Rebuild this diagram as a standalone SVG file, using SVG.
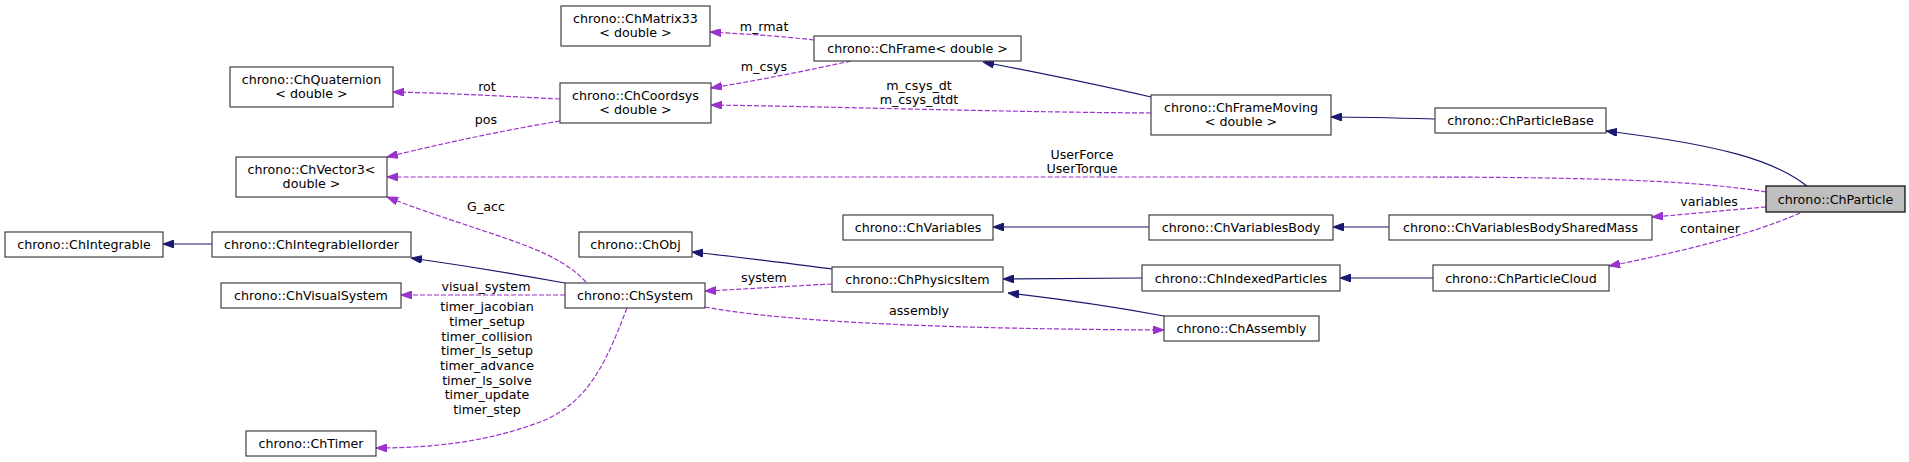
<svg xmlns="http://www.w3.org/2000/svg" width="1909" height="462" viewBox="0 0 1909 462">
<style>
text{font-family:"DejaVu Sans","Liberation Sans",sans-serif;font-size:12.67px;fill:#000;text-anchor:middle}
.n rect{fill:#fff;stroke:#404040;stroke-width:1.2}
.n.cur rect{fill:#bfbfbf;stroke:#000}
.inh{fill:none;stroke:#191970;stroke-width:1.2}
.use{fill:none;stroke:#9a32cd;stroke-width:1.2;stroke-dasharray:5,2}
</style>
<defs>
<marker id="ai" markerUnits="userSpaceOnUse" viewBox="0 0 11 8" refX="11" refY="4" markerWidth="11" markerHeight="8" orient="auto"><path d="M0,0 L11,4 L0,8 z" fill="#191970" stroke="#191970"/></marker>
<marker id="au" markerUnits="userSpaceOnUse" viewBox="0 0 11 8" refX="11" refY="4" markerWidth="11" markerHeight="8" orient="auto"><path d="M0,0 L11,4 L0,8 z" fill="#9a32cd" stroke="#9a32cd"/></marker>
</defs>
<g id="edges">
<path class="use" marker-end="url(#au)" d="M814,40 C780,36 745,34 710,32"/>
<path class="use" marker-end="url(#au)" d="M851,61 C805,71 760,80 711,88"/>
<path class="use" marker-end="url(#au)" d="M1151,113 C1000,112 850,107 711,105"/>
<path class="use" marker-end="url(#au)" d="M560,99 C500,96 445,93 393,92"/>
<path class="use" marker-end="url(#au)" d="M560,121 C500,131 440,144 387,157"/>
<path class="inh" marker-end="url(#ai)" d="M1151,97 C1090,83 1035,72 983,62"/>
<path class="inh" marker-end="url(#ai)" d="M1435,119 C1400,118 1365,117 1331,117"/>
<path class="inh" marker-end="url(#ai)" d="M1808,187 C1775,160 1720,145 1606,131"/>
<path class="use" marker-end="url(#au)" d="M1766,192 C1700,181 1600,177 1400,177 L387,177"/>
<path class="use" marker-end="url(#au)" d="M1766,207 C1728,210 1690,214 1652,217"/>
<path class="use" marker-end="url(#au)" d="M1800,213 C1750,235 1680,252 1609,266"/>
<path class="inh" marker-end="url(#ai)" d="M1389,227 L1333,227"/>
<path class="inh" marker-end="url(#ai)" d="M1149,227 L993,227"/>
<path class="inh" marker-end="url(#ai)" d="M1433,278 L1340,278"/>
<path class="inh" marker-end="url(#ai)" d="M1142,278 L1003,279"/>
<path class="inh" marker-end="url(#ai)" d="M1164,316 C1110,306 1060,299 1008,293"/>
<path class="inh" marker-end="url(#ai)" d="M832,269 C785,263 740,257 692,252"/>
<path class="use" marker-end="url(#au)" d="M832,284 C790,286 748,289 705,291"/>
<path class="use" marker-end="url(#au)" d="M705,307 C790,323 960,329 1164,330"/>
<path class="inh" marker-end="url(#ai)" d="M565,283 C510,273 460,265 411,258"/>
<path class="inh" marker-end="url(#ai)" d="M212,244 L163,244"/>
<path class="use" marker-end="url(#au)" d="M565,295 L401,295"/>
<path class="use" marker-end="url(#au)" d="M586,282 C568,263 545,252 505,238 C470,226 425,212 387,197"/>
<path class="use" marker-end="url(#au)" d="M627,308 C607,360 590,400 545,420 C495,440 440,448 376,448"/>
<text x="764" y="30.5">m_rmat</text>
<text x="764" y="71">m_csys</text>
<text x="919" y="89.5">m_csys_dt</text>
<text x="919" y="103.5">m_csys_dtdt</text>
<text x="487" y="90.5">rot</text>
<text x="486" y="123.5">pos</text>
<text x="1082" y="158.5">UserForce</text>
<text x="1082" y="172.5">UserTorque</text>
<text x="486" y="211">G_acc</text>
<text x="486" y="291">visual_system</text>
<text x="487" y="311">timer_jacobian</text>
<text x="487" y="326">timer_setup</text>
<text x="487" y="341">timer_collision</text>
<text x="487" y="355">timer_ls_setup</text>
<text x="487" y="370">timer_advance</text>
<text x="487" y="385">timer_ls_solve</text>
<text x="487" y="399">timer_update</text>
<text x="487" y="414">timer_step</text>
<text x="764" y="282">system</text>
<text x="919" y="315">assembly</text>
<text x="1709" y="206">variables</text>
<text x="1710" y="233">container</text>
</g>
<g id="ChMatrix33" class="n"><rect x="561" y="6" width="149" height="40"/><text x="635.5" y="22.5">chrono::ChMatrix33</text><text x="635.5" y="36.5">&lt; double &gt;</text></g>
<g id="ChFrame" class="n"><rect x="814" y="36" width="207" height="25"/><text x="917.5" y="53">chrono::ChFrame&lt; double &gt;</text></g>
<g id="ChQuaternion" class="n"><rect x="230" y="67" width="163" height="40"/><text x="311.5" y="83.5">chrono::ChQuaternion</text><text x="311.5" y="97.5">&lt; double &gt;</text></g>
<g id="ChCoordsys" class="n"><rect x="560" y="83" width="151" height="40"/><text x="635.5" y="99.5">chrono::ChCoordsys</text><text x="635.5" y="113.5">&lt; double &gt;</text></g>
<g id="ChFrameMoving" class="n"><rect x="1151" y="95" width="180" height="40"/><text x="1241" y="111.5">chrono::ChFrameMoving</text><text x="1241" y="125.5">&lt; double &gt;</text></g>
<g id="ChParticleBase" class="n"><rect x="1435" y="108" width="171" height="25"/><text x="1520.5" y="125">chrono::ChParticleBase</text></g>
<g id="ChVector3" class="n"><rect x="236" y="157" width="151" height="40"/><text x="311.5" y="173.5">chrono::ChVector3&lt;</text><text x="311.5" y="187.5">double &gt;</text></g>
<g id="ChParticle" class="n cur"><rect x="1766" y="186" width="139" height="26"/><text x="1835.5" y="203.5">chrono::ChParticle</text></g>
<g id="ChVariables" class="n"><rect x="843" y="215" width="150" height="25"/><text x="918" y="232">chrono::ChVariables</text></g>
<g id="ChVariablesBody" class="n"><rect x="1149" y="215" width="184" height="25"/><text x="1241" y="232">chrono::ChVariablesBody</text></g>
<g id="ChVariablesBodySharedMass" class="n"><rect x="1389" y="215" width="263" height="25"/><text x="1520.5" y="232">chrono::ChVariablesBodySharedMass</text></g>
<g id="ChIntegrable" class="n"><rect x="5" y="232" width="158" height="25"/><text x="84" y="249">chrono::ChIntegrable</text></g>
<g id="ChIntegrableIIorder" class="n"><rect x="212" y="232" width="199" height="25"/><text x="311.5" y="249">chrono::ChIntegrableIIorder</text></g>
<g id="ChObj" class="n"><rect x="579" y="232" width="113" height="25"/><text x="635.5" y="249">chrono::ChObj</text></g>
<g id="ChPhysicsItem" class="n"><rect x="832" y="267" width="171" height="25"/><text x="917.5" y="284">chrono::ChPhysicsItem</text></g>
<g id="ChIndexedParticles" class="n"><rect x="1142" y="265" width="198" height="26"/><text x="1241" y="282.5">chrono::ChIndexedParticles</text></g>
<g id="ChParticleCloud" class="n"><rect x="1433" y="265" width="176" height="26"/><text x="1521" y="282.5">chrono::ChParticleCloud</text></g>
<g id="ChVisualSystem" class="n"><rect x="221" y="283" width="180" height="25"/><text x="311" y="300">chrono::ChVisualSystem</text></g>
<g id="ChSystem" class="n"><rect x="565" y="283" width="140" height="25"/><text x="635" y="300">chrono::ChSystem</text></g>
<g id="ChAssembly" class="n"><rect x="1164" y="316" width="155" height="25"/><text x="1241.5" y="333">chrono::ChAssembly</text></g>
<g id="ChTimer" class="n"><rect x="246" y="431" width="130" height="25"/><text x="311" y="448">chrono::ChTimer</text></g>
</svg>
